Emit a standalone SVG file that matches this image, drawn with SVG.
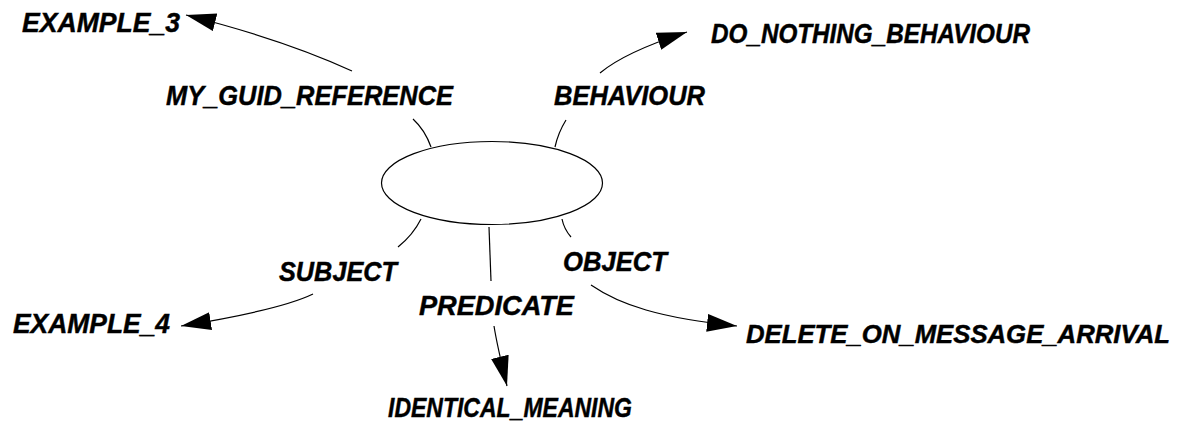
<svg xmlns="http://www.w3.org/2000/svg" width="1188" height="425" viewBox="0 0 1188 425">
<style>
.lbl{font-family:"Liberation Sans",Arial,sans-serif;font-size:27.5px;font-weight:bold;font-style:italic;fill:#000;stroke:#000;stroke-width:0.45}
.edge{fill:none;stroke:#000;stroke-width:1.2}
.node{fill:#fff;stroke:#000;stroke-width:1.2}
</style>
<defs>
<marker id="arr" markerUnits="userSpaceOnUse" markerWidth="32" markerHeight="20" refX="30" refY="9" orient="auto">
<path d="M0,0 L30,9 L0,18 z" fill="#000"/>
</marker>
</defs>
<rect width="1188" height="425" fill="#fff"/>
<g id="connectors">
<path class="edge" d="M431,147 Q425,130 413,119"/>
<path class="edge" d="M352,71 Q285,40 186,15" marker-end="url(#arr)"/>
<path class="edge" d="M555,147 Q558,133 566,120"/>
<path class="edge" d="M600,73 Q625,52 687,32" marker-end="url(#arr)"/>
<path class="edge" d="M421,219 Q413,235 398,247"/>
<path class="edge" d="M313,294 Q280,310 181,326" marker-end="url(#arr)"/>
<path class="edge" d="M489,227 L491,281"/>
<path class="edge" d="M494,326 Q497,345 507,386" marker-end="url(#arr)"/>
<path class="edge" d="M562,219 Q564,229 571,237"/>
<path class="edge" d="M591,285 C620,305 660,318 737,326" marker-end="url(#arr)"/>
</g>
<g id="center"><ellipse class="node" cx="492" cy="183" rx="110.5" ry="41.5"/></g>
<g id="edge-label-my-guid-reference"><text class="lbl" x="166" y="105" textLength="287" lengthAdjust="spacingAndGlyphs">MY_GUID_REFERENCE</text></g>
<g id="edge-label-behaviour"><text class="lbl" x="554" y="105" textLength="151" lengthAdjust="spacingAndGlyphs">BEHAVIOUR</text></g>
<g id="edge-label-subject"><text class="lbl" x="279" y="281" textLength="118" lengthAdjust="spacingAndGlyphs">SUBJECT</text></g>
<g id="edge-label-predicate"><text class="lbl" x="419" y="315" textLength="155" lengthAdjust="spacingAndGlyphs">PREDICATE</text></g>
<g id="edge-label-object"><text class="lbl" x="563" y="271" textLength="104" lengthAdjust="spacingAndGlyphs">OBJECT</text></g>
<g id="example-3"><text class="lbl" x="22" y="32" textLength="158" lengthAdjust="spacingAndGlyphs">EXAMPLE_3</text></g>
<g id="do-nothing-behaviour"><text class="lbl" x="711" y="43" textLength="319" lengthAdjust="spacingAndGlyphs">DO_NOTHING_BEHAVIOUR</text></g>
<g id="example-4"><text class="lbl" x="13" y="333" textLength="157" lengthAdjust="spacingAndGlyphs">EXAMPLE_4</text></g>
<g id="identical-meaning"><text class="lbl" x="388" y="417" textLength="244" lengthAdjust="spacingAndGlyphs">IDENTICAL_MEANING</text></g>
<g id="delete-on-message-arrival"><text class="lbl" x="746" y="343" style="font-size:25.5px" textLength="424" lengthAdjust="spacingAndGlyphs">DELETE_ON_MESSAGE_ARRIVAL</text></g>
</svg>
